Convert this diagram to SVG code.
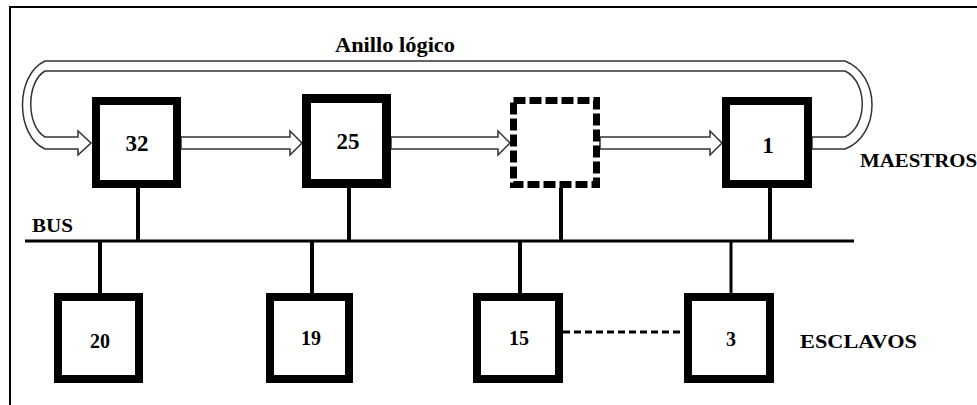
<svg xmlns="http://www.w3.org/2000/svg" width="977" height="405" viewBox="0 0 977 405">
<style>
  .box { fill: #fff; stroke: #000; stroke-width: 8; }
  .dbox { fill: #fff; stroke: #000; stroke-width: 7; stroke-dasharray: 12 4; }
  .wire { stroke: #000; stroke-width: 4; fill: none; }
  .bus { stroke: #000; stroke-width: 3; fill: none; }
  .ring { fill: #fff; stroke: #333; stroke-width: 1.5; stroke-linejoin: miter; }
  .num { text-anchor: middle; }
</style>
<rect x="0" y="0" width="977" height="405" fill="#fff"/>
<line x1="9" y1="7" x2="977" y2="7" stroke="#000" stroke-width="2"/>
<line x1="10" y1="7" x2="10" y2="405" stroke="#000" stroke-width="2"/>

<g id="connectors">
  <path class="ring" d="M812 137 H845 C868 126 868 82 845 71 H45 C26 82 26 126 45 137 H78 V131 L91 143 L78 155 V149 H45 C15 135 15 75 45 61 H845 C881 75 881 135 845 149 H812 Z"/>
  <path class="ring" d="M181 137 H290 V131 L302 143 L290 155 V149 H181 Z"/>
  <path class="ring" d="M391 137 H498 V131 L510 143 L498 155 V149 H391 Z"/>
  <path class="ring" d="M600 137 H710 V131 L722 143 L710 155 V149 H600 Z"/>
  <line class="bus" x1="25" y1="241" x2="854" y2="241"/>
  <line class="wire" x1="138" y1="188" x2="138" y2="241"/>
  <line class="wire" x1="349" y1="188" x2="349" y2="241"/>
  <line class="wire" x1="561" y1="188" x2="561" y2="241"/>
  <line class="wire" x1="770" y1="188" x2="770" y2="241"/>
  <line class="wire" x1="100" y1="241" x2="100" y2="293"/>
  <line class="wire" x1="312" y1="241" x2="312" y2="293"/>
  <line class="wire" x1="520" y1="241" x2="520" y2="293"/>
  <line class="wire" x1="731" y1="241" x2="731" y2="293" style="stroke-width:3"/>
  <line x1="563" y1="332" x2="684" y2="332" stroke="#000" stroke-width="3" stroke-dasharray="7 4"/>
</g>

<g font-family="Liberation Serif, DejaVu Serif, serif" font-weight="bold" fill="#000">
<g id="m32"><rect class="box" x="96" y="101" width="81" height="83"/><text class="num" x="137" y="151" font-size="23">32</text></g>
<g id="m25"><rect class="box" x="306.5" y="98.5" width="80" height="85" style="stroke-width:9"/><text class="num" x="348" y="149" font-size="23">25</text></g>
<g id="mEmpty"><rect class="dbox" x="513.5" y="100.5" width="83" height="84"/></g>
<g id="m1"><rect class="box" x="726" y="101" width="82" height="83"/><text class="num" x="768" y="153" font-size="23">1</text></g>

<g id="s20"><rect class="box" x="58" y="297" width="81" height="82"/><text class="num" x="100" y="348" font-size="20">20</text></g>
<g id="s19"><rect class="box" x="270" y="297" width="79" height="82"/><text class="num" x="311" y="345" font-size="20">19</text></g>
<g id="s15"><rect class="box" x="477" y="297" width="82" height="82"/><text class="num" x="519" y="345" font-size="20">15</text></g>
<g id="s3"><rect class="box" x="688" y="297" width="82" height="82"/><text class="num" x="731" y="346" font-size="20">3</text></g>

<g id="labels">
  <text x="335" y="52" font-size="20" textLength="120" lengthAdjust="spacingAndGlyphs">Anillo lógico</text>
  <text x="860" y="167" font-size="19" textLength="117" lengthAdjust="spacingAndGlyphs">MAESTROS</text>
  <text x="32" y="232" font-size="18" textLength="41" lengthAdjust="spacingAndGlyphs">BUS</text>
  <text x="800" y="348" font-size="19" textLength="117" lengthAdjust="spacingAndGlyphs">ESCLAVOS</text>
</g>
</g>
</svg>
